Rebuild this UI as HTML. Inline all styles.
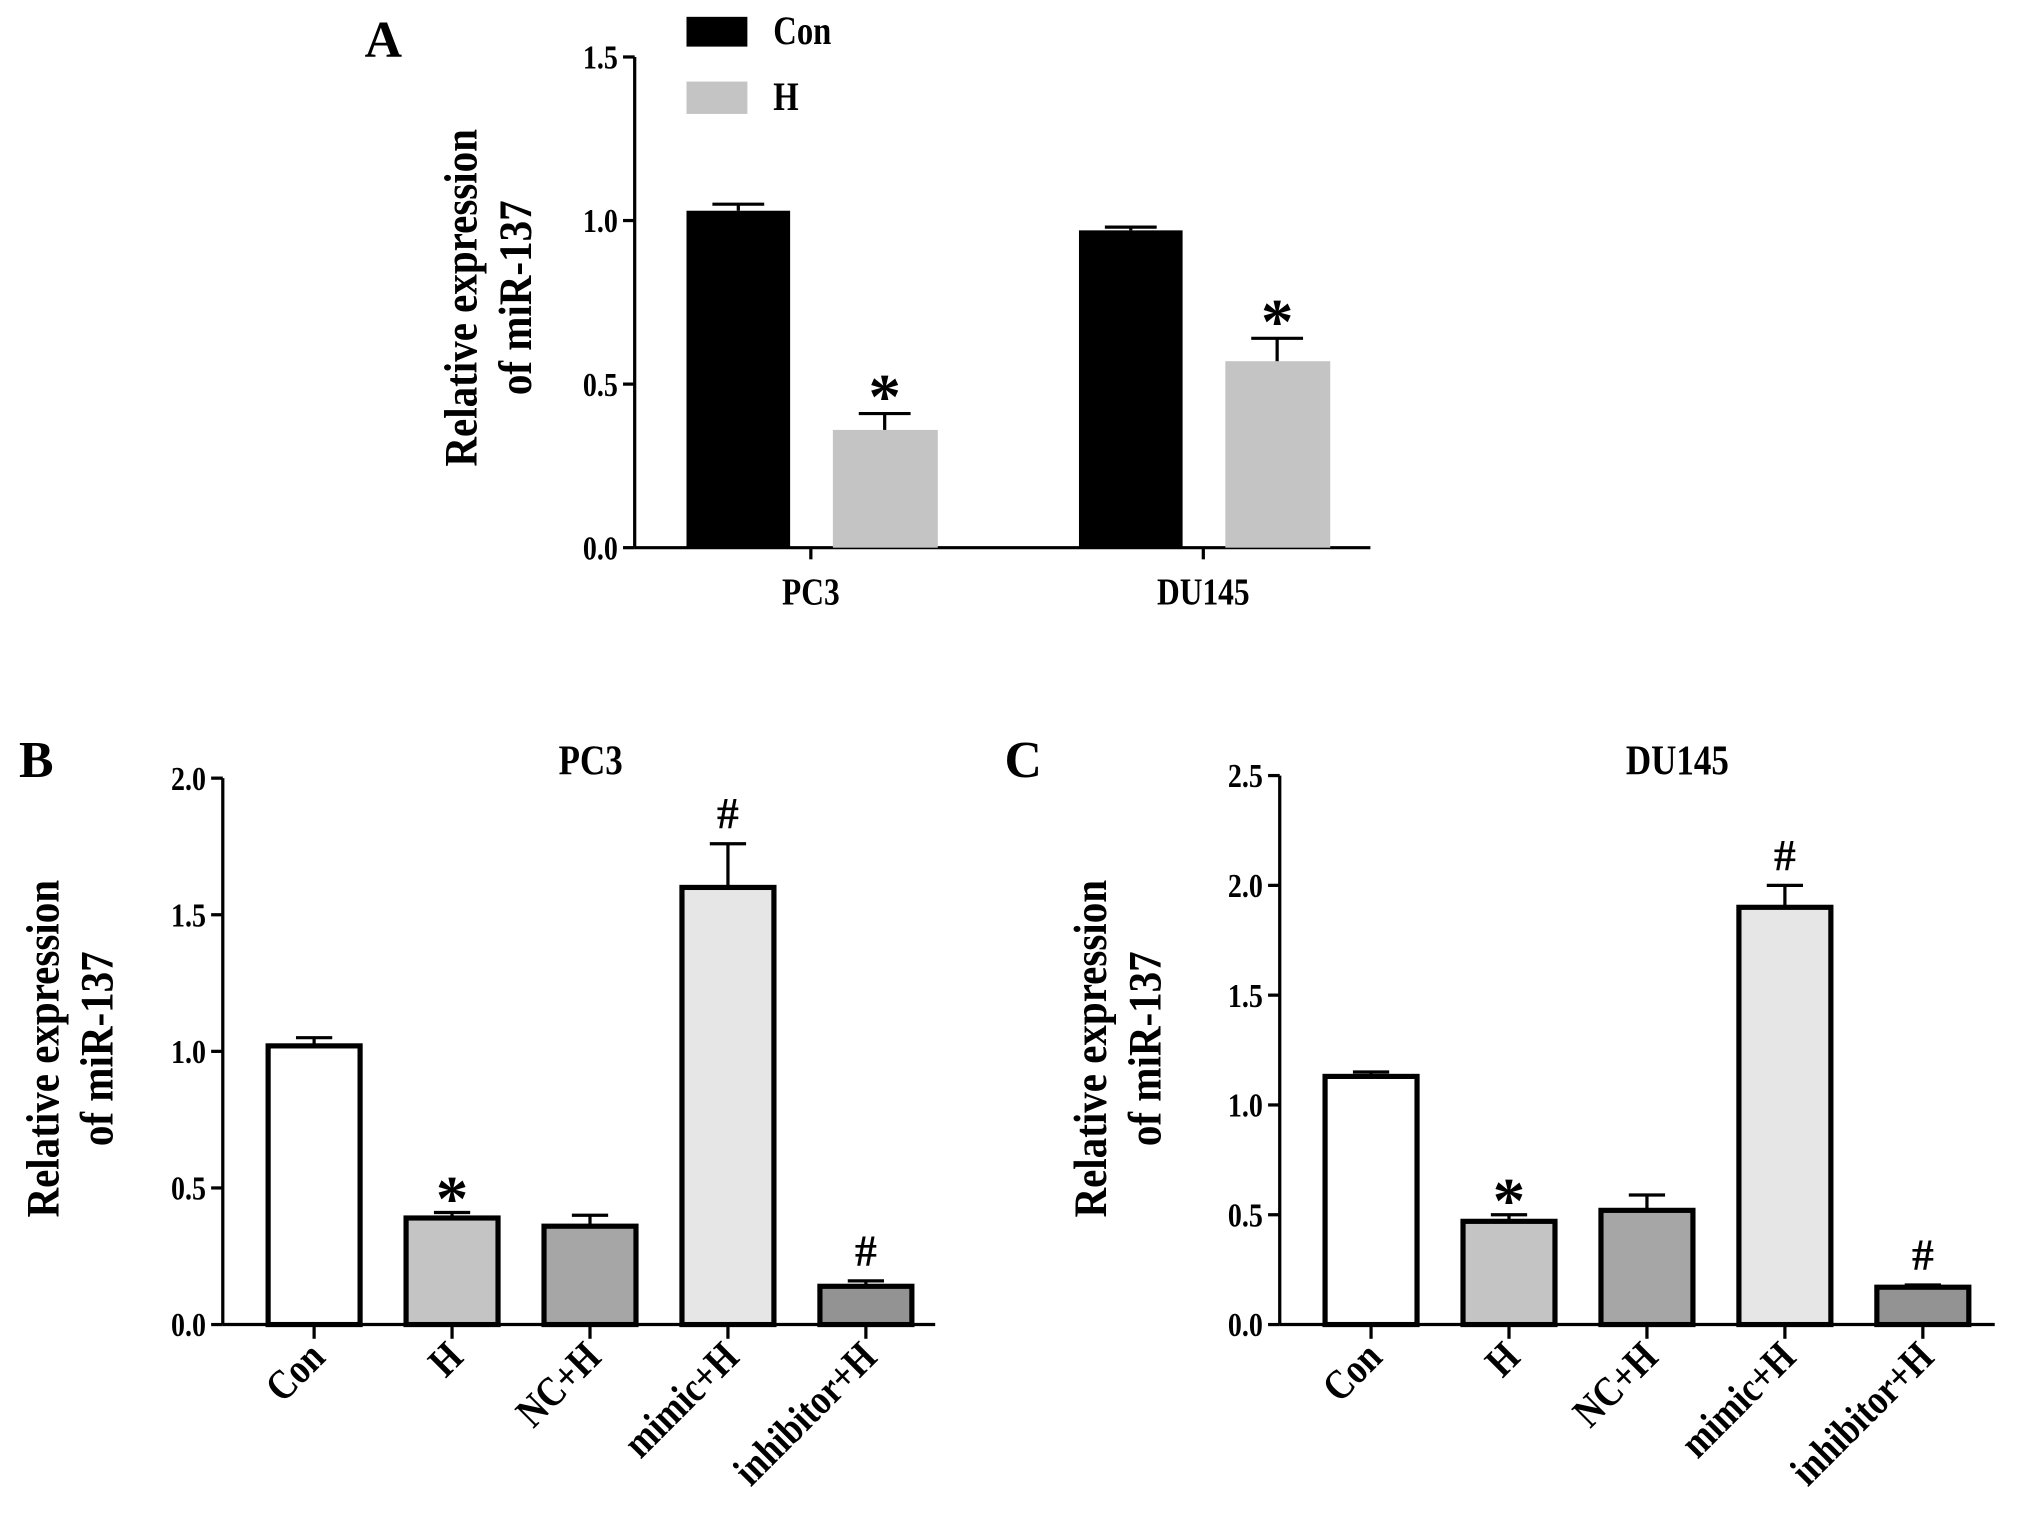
<!DOCTYPE html>
<html><head><meta charset="utf-8"><style>
html,body{margin:0;padding:0;background:#fff;}
svg{display:block;}
text{font-family:"Liberation Serif",serif;font-weight:bold;fill:#000;}
</style></head><body>
<svg id="fig" width="2031" height="1533" viewBox="0 0 1568 1184" preserveAspectRatio="none" xmlns="http://www.w3.org/2000/svg"></svg>
<script>
const aCats=["PC3","DU145"];
const aCon=[1.03,0.97];
const aConErr=[0.02,0.01];
const aH=[0.36,0.57];
const aHErr=[0.05,0.07];
const aTicks=[0,0.5,1.0,1.5];
const bCats=["Con","H","NC+H","mimic+H","inhibitor+H"];
const bVals=[1.02,0.39,0.36,1.60,0.14];
const bErr=[0.03,0.02,0.04,0.16,0.02];
const bMarks=["","*","","#","#"];
const bTicks=[0,0.5,1.0,1.5,2.0];
const cVals=[1.13,0.47,0.52,1.90,0.17];
const cErr=[0.02,0.03,0.07,0.10,0.01];
const cMarks=["","*","","#","#"];
const cTicks=[0,0.5,1.0,1.5,2.0,2.5];
const fills=["#ffffff","#c4c4c4","#a6a6a6","#e6e6e6","#939393"];

const NS="http://www.w3.org/2000/svg";
const svg=document.getElementById("fig");
function mk(tag,attrs,parent,txt){const e=document.createElementNS(NS,tag);for(const k in attrs)e.setAttribute(k,attrs[k]);if(txt!==undefined)e.textContent=txt;(parent||svg).appendChild(e);return e;}

function yAxis(g,x,y0,yTop,max,ticks,name){
  const sc=v=>y0-(v/max)*(y0-yTop);
  const ax=mk("line",{x1:x,y1:y0,x2:x,y2:yTop,stroke:"#000","stroke-width":2.5},g);
  
  
  ticks.forEach(t=>{
    mk("line",{x1:x-9,x2:x,y1:sc(t),y2:sc(t),stroke:"#000","stroke-width":2.5},g);
    const tl=mk("text",{transform:`translate(${x-13},${sc(t)+9}) scale(0.9,1.1)`,"text-anchor":"end","font-size":24},g,t.toFixed(1));
    
    
  });
  return sc;
}
function yTitle(g,cx,cy,name){
  const t=mk("text",{transform:`translate(${cx},${cy}) rotate(-90) scale(0.88,1)`,"text-anchor":"middle","font-size":36},g);
  
  
  mk("tspan",{x:0,y:-12},t,"Relative expression");
  mk("tspan",{x:0,y:30},t,"of miR-137");
}
function errBar(g,cx,yTop,yErr,w){
  mk("line",{x1:cx,x2:cx,y1:yTop,y2:yErr,stroke:"#000","stroke-width":2.5},g);
  mk("line",{x1:cx-w,x2:cx+w,y1:yErr,y2:yErr,stroke:"#000","stroke-width":2.5},g);
}

// Panel A
const gA=mk("g",{});


mk("text",{x:296,y:44,"text-anchor":"middle","font-size":40},gA,"A");
const scA=yAxis(gA,490,423,44,1.5,aTicks,"panel-a");
mk("line",{x1:490,x2:1058,y1:423,y2:423,stroke:"#000","stroke-width":2.5},gA);
yTitle(gA,380,230,"panel-a");
const aGroupX=[530,833];
aCats.forEach((c,i)=>{
  const x0=aGroupX[i];
  const b1=mk("rect",{x:x0,y:scA(aCon[i]),width:80,height:423-scA(aCon[i]),fill:"#000"},gA);
  
  
  errBar(gA,x0+40,scA(aCon[i]),scA(aCon[i]+aConErr[i]),20);
  const hx=x0+113;
  const b2=mk("rect",{x:hx,y:scA(aH[i]),width:81,height:423-scA(aH[i]),fill:"#c4c4c4"},gA);
  
  
  errBar(gA,hx+40,scA(aH[i]),scA(aH[i]+aHErr[i]),20);
  mk("text",{x:hx+40,y:scA(aH[i]+aHErr[i])+4,"text-anchor":"middle","font-size":50,"font-weight":"normal"},gA,"*");
  const cx=x0+96;
  mk("line",{x1:cx,x2:cx,y1:423,y2:432,stroke:"#000","stroke-width":2.5},gA);
  const cl=mk("text",{transform:`translate(${cx},${467}) scale(0.9,1.1)`,"text-anchor":"middle","font-size":27},gA,c);
  
  
});
const l1=mk("rect",{x:530,y:13,width:47,height:23,fill:"#000"},gA);


mk("text",{transform:"translate(597,34) scale(0.9,1.1)","font-size":28},gA,"Con");
const l2=mk("rect",{x:530,y:63,width:47,height:25,fill:"#c4c4c4"},gA);


mk("text",{transform:"translate(597,85) scale(0.9,1.1)","font-size":28},gA,"H");

function panel(name,letter,letterX,title,titleX,axX,yTop,max,ticks,vals,errs,marks,xEnd,barX,titleCx){
  const g=mk("g",{});
  
  
  mk("text",{x:letterX,y:600,"text-anchor":"middle","font-size":40},g,letter);
  mk("text",{transform:`translate(${titleX},${598}) scale(0.9,1.1)`,"text-anchor":"middle","font-size":30},g,title);
  const sc=yAxis(g,axX,1023,yTop,max,ticks,name);
  yTitle(g,titleCx,810,name);
  vals.forEach((v,i)=>{
    const x=barX+i*106.5;
    const r=mk("rect",{x:x,y:sc(v),width:71,height:1023-sc(v),fill:fills[i],stroke:"#000","stroke-width":4},g);
    
    
    errBar(g,x+35.5,sc(v),sc(v+errs[i]),14);
    if(marks[i]){
      const m=mk("text",{x:x+35.5,y:sc(v+errs[i])+(marks[i]==="*"?6:-12),"text-anchor":"middle","font-size":marks[i]==="*"?50:34,"font-weight":"normal"},g,marks[i]);
      
      
    }
    const cx=x+35.5;
    mk("line",{x1:cx,x2:cx,y1:1023,y2:1034,stroke:"#000","stroke-width":2.5},g);
    const lb=mk("text",{transform:`translate(${cx+10},${1050}) rotate(-45) scale(0.88,1.05)`,"text-anchor":"end","font-size":31},g,bCats[i]);
    
    
  });
  mk("line",{x1:axX,x2:xEnd,y1:1023,y2:1023,stroke:"#000","stroke-width":2.5},g);
}
panel("panel-b","B",28,"PC3",456,172,601,2.0,bTicks,bVals,bErr,bMarks,722,207,57);
panel("panel-c","C",790,"DU145",1295,988,599,2.5,cTicks,cVals,cErr,cMarks,1540,1023,866);
</script>
</body></html>
